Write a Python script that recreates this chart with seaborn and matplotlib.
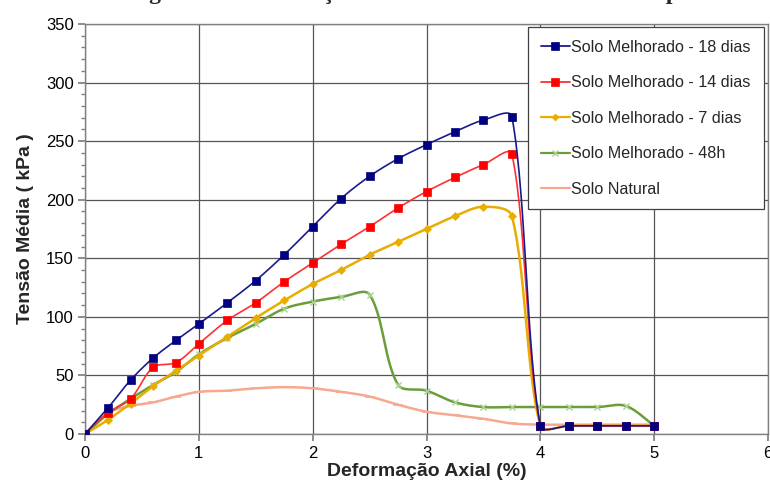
import numpy as np
import pandas as pd
import matplotlib
matplotlib.use("Agg")
import matplotlib.pyplot as plt
import seaborn as sns
from matplotlib.ticker import MultipleLocator
from matplotlib.lines import Line2D

sns.set_theme(style="white")
plt.rcParams['font.family'] = ['Liberation Sans', 'DejaVu Sans']

# ---------------- data ----------------
x_main = [0, 0.2, 0.4, 0.6, 0.8, 1.0, 1.25, 1.5, 1.75, 2.0, 2.25, 2.5, 2.75,
          3.0, 3.25, 3.5, 3.75, 4.0, 4.25, 4.5, 4.75, 5.0]
y_18d = [0, 22, 46, 65, 80, 94, 112, 131, 153, 177, 201, 220, 235,
         247, 258, 268, 271, 7, 7, 7, 7, 7]
y_14d = [0, 18, 30, 57, 61, 77, 97, 112, 130, 146, 162, 177, 193,
         207, 219, 230, 239, 7, 7, 7, 7, 7]
y_7d = [0, 12, 26, 41, 54, 67, 83, 99, 114, 128, 140, 153, 164,
        175, 186, 194, 186, 7, 7, 7, 7, 7]
y_48h = [0, 17, 30, 42, 53, 68, 82, 94, 107, 113, 117, 119, 42,
         37, 27, 23, 23, 23, 23, 23, 24, 7]
y_nat = [0, 18, 24, 27, 32, 36, 37, 39, 40, 39, 36, 32, 25,
         19, 16, 13, 9, 8, 8, 8, 8, 8]

series_names = ["Solo Melhorado - 18 dias", "Solo Melhorado - 14 dias",
                "Solo Melhorado - 7 dias", "Solo Melhorado - 48h", "Solo Natural"]
series_values = [y_18d, y_14d, y_7d, y_48h, y_nat]

x_label = "Deformação Axial (%)"
y_label = "Tensão Média ( kPa )"
title_text = "Figura 4.15 – Variação das tensões médias com a compressão"

styles = {
    "Solo Melhorado - 18 dias": dict(color="#1A1A8C", marker="s", ms=6, lw=1.2, mfc="#000080", mec="#000080", mew=0.5),
    "Solo Melhorado - 14 dias": dict(color="#FF3030", marker="s", ms=6, lw=1.2, mfc="#FF0000", mec="#FF0000", mew=0.5),
    "Solo Melhorado - 7 dias": dict(color="#E8AD00", marker="D", ms=4, lw=1.8, mfc="#E8AD00", mec="#E8AD00", mew=0.5),
    "Solo Melhorado - 48h": dict(color="#6A9E3C", marker="x", ms=5, lw=1.8, mfc="#A8D090", mec="#A8D090", mew=1.0),
    "Solo Natural": dict(color="#F7A88E", marker="_", ms=7, lw=1.8, mfc="#F7A88E", mec="#F7A88E", mew=1.2),
}

PX_X = 114.0   # screen pixels per x unit (for smoothing distances)
PX_Y = 410 / 350.0


def smooth(xs, ys, n=30):
    """Bezier smoothing similar to spreadsheet 'smoothed line'."""
    P = np.column_stack([np.asarray(xs, float) * PX_X, np.asarray(ys, float) * PX_Y])
    out = [P[0]]
    t = np.linspace(0, 1, n)[1:]

    def d(a, b):
        return np.hypot(*(a - b))

    for i in range(len(P) - 1):
        p0 = P[i - 1] if i > 0 else P[i]
        p1 = P[i]
        p2 = P[i + 1]
        p3 = P[i + 2] if i + 2 < len(P) else P[i + 1]
        d01, d12, d23 = d(p0, p1), d(p1, p2), d(p2, p3)
        f1 = (d12 / (d01 + d12)) / 3.0 if d01 + d12 > 0 else 0
        f2 = (d12 / (d12 + d23)) / 3.0 if d12 + d23 > 0 else 0
        f1 = min(f1, 0.25)
        f2 = min(f2, 0.25)
        c1 = p1 + (p2 - p0) * f1
        c2 = p2 - (p3 - p1) * f2
        for tt in t:
            b = ((1 - tt) ** 3) * p1 + 3 * ((1 - tt) ** 2) * tt * c1 + 3 * (1 - tt) * tt ** 2 * c2 + tt ** 3 * p2
            out.append(b)
    out = np.array(out)
    return out[:, 0] / PX_X, out[:, 1] / PX_Y


fig = plt.figure(figsize=(7.7, 4.84), dpi=100)
ax = fig.add_axes([85 / 770, 1 - 434 / 484, 683 / 770, 410 / 484])

order = list(range(len(series_names)))[::-1]
for idx in order:
    name = series_names[idx]
    ys = series_values[idx]
    st = styles[name]
    sx, sy = smooth(x_main, ys)
    df = pd.DataFrame({"x": sx, "y": sy})
    sns.lineplot(data=df, x="x", y="y", sort=False, ax=ax, color=st["color"],
                 lw=st["lw"], estimator=None, zorder=3 + (5 - idx))
    dm = pd.DataFrame({"x": x_main, "y": ys})
    ax.plot(dm["x"], dm["y"], ls="none", marker=st["marker"], ms=st["ms"],
            mfc=st["mfc"], mec=st["mec"], mew=st["mew"], zorder=4 + (5 - idx))

handles = []
for name in series_names:
    st = styles[name]
    handles.append(Line2D([0], [0], color=st["color"], lw=1.3 if st["lw"] < 1.5 else 1.6,
                          marker=st["marker"], ms=st["ms"] - 0.5, mfc=st["mfc"],
                          mec=st["mec"], mew=st["mew"], label=name))

ax.set_xlim(0, 6)
ax.set_ylim(0, 350)
ax.xaxis.set_major_locator(MultipleLocator(1))
ax.yaxis.set_major_locator(MultipleLocator(50))
ax.yaxis.set_minor_locator(MultipleLocator(10))
ax.grid(True, which="major", color="#555555", lw=0.9)
ax.set_axisbelow(True)
for s in ax.spines.values():
    s.set_color("#808080")
    s.set_linewidth(1.0)
ax.tick_params(axis="both", which="major", labelsize=12, length=5, color="#808080",
               direction="out", left=True, bottom=True, labelcolor="black")
ax.tick_params(axis="x", which="major", pad=4)
ax.tick_params(axis="y", which="major", pad=3)
ax.tick_params(axis="y", which="minor", length=3, color="#808080", direction="out", left=True)

ax.set_xlabel(x_label, fontsize=14, fontweight="bold", labelpad=1)
ax.set_ylabel(y_label, fontsize=14, fontweight="bold", labelpad=9)

leg = ax.legend(handles=handles, loc="upper right", bbox_to_anchor=(0.9935, 0.993),
                fontsize=11.6, frameon=True, fancybox=False, shadow=False,
                labelspacing=1.27, handlelength=1.75, handletextpad=0.1,
                borderpad=0.8, borderaxespad=0.0)
leg.get_frame().set_edgecolor("#404040")
leg.get_frame().set_linewidth(0.9)
leg.get_frame().set_facecolor("white")
leg.get_frame().set_alpha(1)

fig.text(0.565, 1 + 1 / 484, title_text, ha="center", va="baseline",
         fontsize=17, fontweight="bold", family=["Liberation Serif", "DejaVu Serif"])

fig.savefig("out.png", dpi=100)
